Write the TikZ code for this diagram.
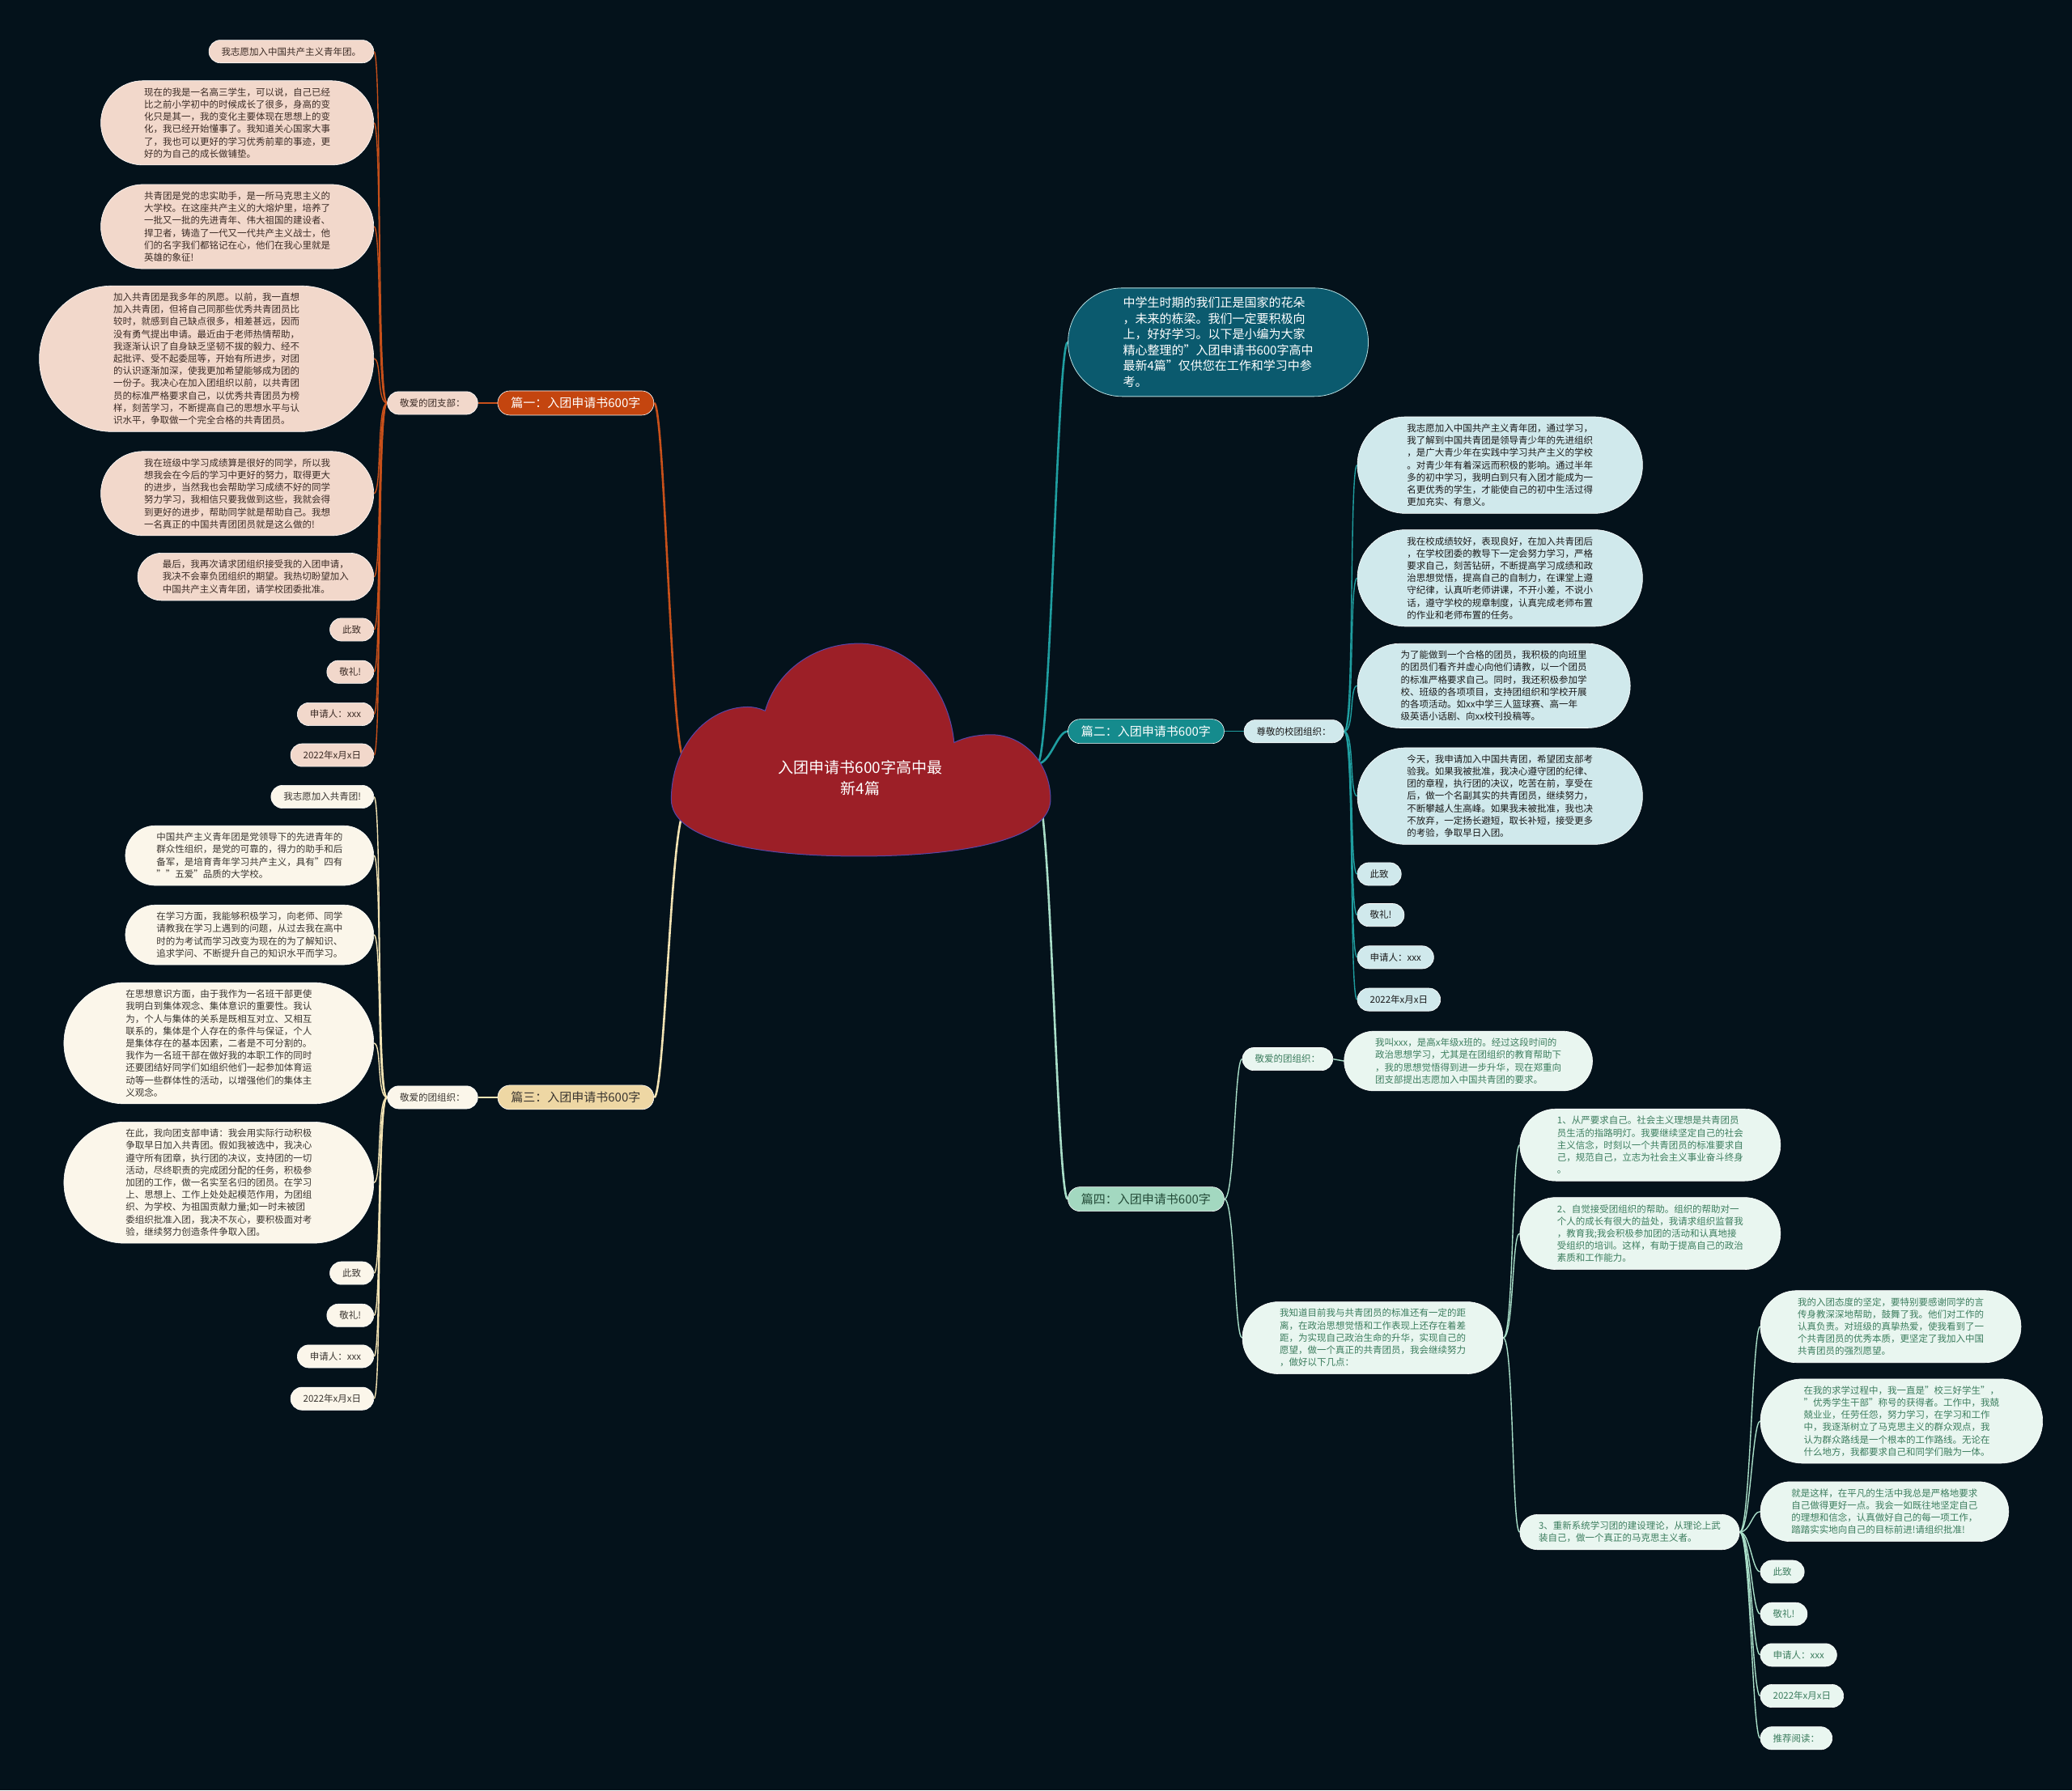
\documentclass[tikz,border=0pt]{standalone}
\usepackage{fontspec}
\setmainfont{Noto Sans CJK SC}
\usetikzlibrary{positioning, backgrounds}

\definecolor{bgnavy}{HTML}{04121B}
\definecolor{cloudred}{HTML}{9C1F27}
\definecolor{cloudline}{HTML}{5846A8}
\definecolor{peach}{HTML}{F2D8CB}
\definecolor{inkone}{HTML}{3B2B25}
\definecolor{topone}{HTML}{C4450F}
\definecolor{lineone}{HTML}{C8501A}
\definecolor{icecyan}{HTML}{D0E9EC}
\definecolor{inktwo}{HTML}{1A1A1A}
\definecolor{toptwo}{HTML}{158B8D}
\definecolor{linetwo}{HTML}{1F9EA0}
\definecolor{introfill}{HTML}{0B5A6E}
\definecolor{introline}{HTML}{B5DDE0}
\definecolor{cream}{HTML}{FBF6EA}
\definecolor{inkthree}{HTML}{3A3530}
\definecolor{topthree}{HTML}{EED7A4}
\definecolor{linethree}{HTML}{F3E3B3}
\definecolor{mintfill}{HTML}{E9F6F0}
\definecolor{inkfour}{HTML}{3C7D5E}
\definecolor{topfour}{HTML}{A3D8C0}
\definecolor{linefour}{HTML}{A9DEC8}

\newcommand\leaffont{\fontsize{11.5pt}{15.2pt}\selectfont}

\begin{document}
\begin{tikzpicture}[
    x=1.6327pt, y=-1.6327pt,
    every node/.style={font=\leaffont},
    rows/.style={minimum height={15.2pt*#1+13pt}, rounded corners={7.6pt*#1+6.5pt}, inner xsep={7.6pt*#1+8pt}},
    leaf/.style={rectangle, draw=white, line width=0.6pt, inner ysep=2pt, rows=1, align=left},
    leafone/.style={leaf, fill=peach, text=inkone},
    leaftwo/.style={leaf, fill=icecyan, text=inktwo},
    leafthree/.style={leaf, fill=cream, text=inkthree},
    leaffour/.style={leaf, fill=mintfill, text=inkfour},
    topic/.style={rectangle, draw=white, line width=0.6pt, minimum height=30pt, rounded corners=15pt, inner xsep=16.5pt, font=\fontsize{15pt}{18pt}\selectfont},
    linkone/.style={draw=lineone, line width=1.4pt},
    linktwo/.style={draw=linetwo, line width=1.4pt},
    linkthree/.style={draw=linethree, line width=1.4pt},
    linkfour/.style={draw=linefour, line width=1.4pt},
    trunk/.style={line width=2.6pt}
]
    \useasboundingbox (0,0) rectangle (1568,1355);

    \filldraw [fill=cloudred, draw=cloudline, line width=1pt]
        (508,605) .. controls (508,565) and (535,535) .. (566,535)
        .. controls (570,535) and (575,536) .. (579,538)
        .. controls (588,507) and (617,487) .. (650,487)
        .. controls (688,487) and (718,520) .. (722,562)
        .. controls (730,558) and (740,556) .. (750,556)
        .. controls (775,556) and (795,578) .. (795,605)
        .. controls (795,635) and (730,648) .. (650,648)
        .. controls (570,648) and (508,635) .. (508,605) -- cycle;
    \node (title) [text=white, align=center, font=\fontsize{19pt}{26pt}\selectfont] at (651,589) {入团申请书600字高中最\\新4篇};
    \coordinate (cloudL1) at (518,575);
    \coordinate (cloudL3) at (518,615);
    \coordinate (cloudR2) at (785,578);
    \coordinate (cloudR4) at (785,600);

    % 篇一
    \node (p1) [topic, fill=topone, text=white, anchor=east] at (495,305) {篇一：入团申请书600字};
    \node (t1) [leafone, left=24pt of p1] {敬爱的团支部：};
    \node (a1) [leafone, anchor=east] at (283,39) {我志愿加入中国共产主义青年团。};
    \node (a2) [leafone, rows=6, anchor=east] at (283,93) {现在的我是一名高三学生，可以说，自己已经\\比之前小学初中的时候成长了很多，身高的变\\化只是其一，我的变化主要体现在思想上的变\\化，我已经开始懂事了。我知道关心国家大事\\了，我也可以更好的学习优秀前辈的事迹，更\\好的为自己的成长做铺垫。};
    \node (a3) [leafone, rows=6, anchor=east] at (283,171.5) {共青团是党的忠实助手，是一所马克思主义的\\大学校。在这座共产主义的大熔炉里，培养了\\一批又一批的先进青年、伟大祖国的建设者、\\捍卫者，铸造了一代又一代共产主义战士，他\\们的名字我们都铭记在心，他们在我心里就是\\英雄的象征!};
    \node (a4) [leafone, rows=11, anchor=east] at (283,271.5) {加入共青团是我多年的夙愿。以前，我一直想\\加入共青团，但将自己同那些优秀共青团员比\\较时，就感到自己缺点很多，相差甚远，因而\\没有勇气提出申请。最近由于老师热情帮助，\\我逐渐认识了自身缺乏坚韧不拔的毅力、经不\\起批评、受不起委屈等，开始有所进步，对团\\的认识逐渐加深，使我更加希望能够成为团的\\一份子。我决心在加入团组织以前，以共青团\\员的标准严格要求自己，以优秀共青团员为榜\\样，刻苦学习，不断提高自己的思想水平与认\\识水平，争取做一个完全合格的共青团员。};
    \node (a5) [leafone, rows=6, anchor=east] at (283,373.5) {我在班级中学习成绩算是很好的同学，所以我\\想我会在今后的学习中更好的努力，取得更大\\的进步，当然我也会帮助学习成绩不好的同学\\努力学习，我相信只要我做到这些，我就会得\\到更好的进步，帮助同学就是帮助自己。我想\\一名真正的中国共青团团员就是这么做的!};
    \node (a6) [leafone, rows=3, anchor=east] at (283,436.5) {最后，我再次请求团组织接受我的入团申请，\\我决不会辜负团组织的期望。我热切盼望加入\\中国共产主义青年团，请学校团委批准。};
    \node (a7) [leafone, anchor=east] at (283,476.5) {此致};
    \node (a8) [leafone, anchor=east] at (283,508.5) {敬礼!};
    \node (a9) [leafone, anchor=east] at (283,540.5) {申请人：xxx};
    \node (a10) [leafone, anchor=east] at (283,571.5) {2022年x月x日};

    % 篇三
    \node (p3) [topic, fill=topthree, text=inkthree, anchor=east] at (495,830.5) {篇三：入团申请书600字};
    \node (t3) [leafthree, left=24pt of p3] {敬爱的团组织：};
    \node (c1) [leafthree, anchor=east] at (283,603) {我志愿加入共青团!};
    \node (c2) [leafthree, rows=4, anchor=east] at (283,647.5) {中国共产主义青年团是党领导下的先进青年的\\群众性组织，是党的可靠的，得力的助手和后\\备军，是培育青年学习共产主义，具有"四有\\""五爱"品质的大学校。};
    \node (c3) [leafthree, rows=4, anchor=east] at (283,707.5) {在学习方面，我能够积极学习，向老师、同学\\请教我在学习上遇到的问题，从过去我在高中\\时的为考试而学习改变为现在的为了解知识、\\追求学问、不断提升自己的知识水平而学习。};
    \node (c4) [leafthree, rows=9, anchor=east] at (283,789.5) {在思想意识方面，由于我作为一名班干部更使\\我明白到集体观念、集体意识的重要性。我认\\为，个人与集体的关系是既相互对立、又相互\\联系的，集体是个人存在的条件与保证，个人\\是集体存在的基本因素，二者是不可分割的。\\我作为一名班干部在做好我的本职工作的同时\\还要团结好同学们如组织他们一起参加体育运\\动等一些群体性的活动，以增强他们的集体主\\义观念。};
    \node (c5) [leafthree, rows=9, anchor=east] at (283,895) {在此，我向团支部申请：我会用实际行动积极\\争取早日加入共青团。假如我被选中，我决心\\遵守所有团章，执行团的决议，支持团的一切\\活动，尽终职责的完成团分配的任务，积极参\\加团的工作，做一名实至名归的团员。在学习\\上、思想上、工作上处处起模范作用，为团组\\织、为学校、为祖国贡献力量;如一时未被团\\委组织批准入团，我决不灰心，要积极面对考\\验，继续努力创造条件争取入团。};
    \node (c6) [leafthree, anchor=east] at (283,963.5) {此致};
    \node (c7) [leafthree, anchor=east] at (283,995.5) {敬礼!};
    \node (c8) [leafthree, anchor=east] at (283,1026.5) {申请人：xxx};
    \node (c9) [leafthree, anchor=east] at (283,1058.5) {2022年x月x日};

    % intro and 篇二
    \node (intro) [rectangle, fill=introfill, draw=introline, line width=0.8pt, text=white, align=left, minimum height=134pt, rounded corners=67pt, inner xsep=68pt, font=\fontsize{15pt}{19.5pt}\selectfont, anchor=west] at (808,259) {中学生时期的我们正是国家的花朵\\，未来的栋梁。我们一定要积极向\\上，好好学习。以下是小编为大家\\精心整理的"入团申请书600字高中\\最新4篇"仅供您在工作和学习中参\\考。};
    \node (p2) [topic, fill=toptwo, text=white, anchor=west] at (808,553.5) {篇二：入团申请书600字};
    \node (t2) [leaftwo, right=24pt of p2] {尊敬的校团组织：};
    \node (b1) [leaftwo, rows=7, anchor=west] at (1027,352) {我志愿加入中国共产主义青年团，通过学习，\\我了解到中国共青团是领导青少年的先进组织\\，是广大青少年在实践中学习共产主义的学校\\。对青少年有着深远而积极的影响。通过半年\\多的初中学习，我明白到只有入团才能成为一\\名更优秀的学生，才能使自己的初中生活过得\\更加充实、有意义。};
    \node (b2) [leaftwo, rows=7, anchor=west] at (1027,437.5) {我在校成绩较好，表现良好，在加入共青团后\\，在学校团委的教导下一定会努力学习，严格\\要求自己，刻苦钻研，不断提高学习成绩和政\\治思想觉悟，提高自己的自制力，在课堂上遵\\守纪律，认真听老师讲课，不开小差，不说小\\话，遵守学校的规章制度，认真完成老师布置\\的作业和老师布置的任务。};
    \node (b3) [leaftwo, rows=6, anchor=west] at (1027,519) {为了能做到一个合格的团员，我积极的向班里\\的团员们看齐并虚心向他们请教，以一个团员\\的标准严格要求自己。同时，我还积极参加学\\校、班级的各项项目，支持团组织和学校开展\\的各项活动。如xx中学三人篮球赛、高一年\\级英语小话剧、向xx校刊投稿等。};
    \node (b4) [leaftwo, rows=7, anchor=west] at (1027,602.5) {今天，我申请加入中国共青团，希望团支部考\\验我。如果我被批准，我决心遵守团的纪律、\\团的章程，执行团的决议，吃苦在前，享受在\\后，做一个名副其实的共青团员，继续努力，\\不断攀越人生高峰。如果我未被批准，我也决\\不放弃，一定扬长避短，取长补短，接受更多\\的考验，争取早日入团。};
    \node (b5) [leaftwo, anchor=west] at (1027,661.5) {此致};
    \node (b6) [leaftwo, anchor=west] at (1027,692.5) {敬礼!};
    \node (b7) [leaftwo, anchor=west] at (1027,724.5) {申请人：xxx};
    \node (b8) [leaftwo, anchor=west] at (1027,756.5) {2022年x月x日};

    % 篇四
    \node (p4) [topic, fill=topfour, text=inkfour!60!black, anchor=west] at (808,907.5) {篇四：入团申请书600字};
    \node (t4) [leaffour, anchor=west] at (940,801.5) {敬爱的团组织：};
    \node (d0) [leaffour, rows=4, anchor=west] at (1017,803) {我叫xxx，是高x年级x班的。经过这段时间的\\政治思想学习，尤其是在团组织的教育帮助下\\，我的思想觉悟得到进一步升华，现在郑重向\\团支部提出志愿加入中国共青团的要求。};
    \node (know) [leaffour, rows=5, anchor=west] at (940,1012.5) {我知道目前我与共青团员的标准还有一定的距\\离，在政治思想觉悟和工作表现上还存在着差\\距，为实现自己政治生命的升华，实现自己的\\愿望，做一个真正的共青团员，我会继续努力\\，做好以下几点：};
    \node (s1) [leaffour, rows=5, anchor=west] at (1150,866.5) {1、从严要求自己。社会主义理想是共青团员\\员生活的指路明灯。我要继续坚定自己的社会\\主义信念，时刻以一个共青团员的标准要求自\\己，规范自己，立志为社会主义事业奋斗终身\\。};
    \node (s2) [leaffour, rows=5, anchor=west] at (1150,933.5) {2、自觉接受团组织的帮助。组织的帮助对一\\个人的成长有很大的益处，我请求组织监督我\\，教育我;我会积极参加团的活动和认真地接\\受组织的培训。这样，有助于提高自己的政治\\素质和工作能力。};
    \node (s3) [leaffour, rows=2, anchor=west] at (1150,1159.5) {3、重新系统学习团的建设理论，从理论上武\\装自己，做一个真正的马克思主义者。};
    \node (e1) [leaffour, rows=5, anchor=west] at (1332,1004) {我的入团态度的坚定，要特别要感谢同学的言\\传身教深深地帮助，鼓舞了我。他们对工作的\\认真负责。对班级的真挚热爱，使我看到了一\\个共青团员的优秀本质，更坚定了我加入中国\\共青团员的强烈愿望。};
    \node (e2) [leaffour, rows=6, anchor=west] at (1332,1075.5) {在我的求学过程中，我一直是"校三好学生"，\\"优秀学生干部"称号的获得者。工作中，我兢\\兢业业，任劳任怨，努力学习，在学习和工作\\中，我逐渐树立了马克思主义的群众观点，我\\认为群众路线是一个根本的工作路线。无论在\\什么地方，我都要求自己和同学们融为一体。};
    \node (e3) [leaffour, rows=4, anchor=west] at (1332,1144) {就是这样，在平凡的生活中我总是严格地要求\\自己做得更好一点。我会一如既往地坚定自己\\的理想和信念，认真做好自己的每一项工作，\\踏踏实实地向自己的目标前进!请组织批准!};
    \node (e4) [leaffour, anchor=west] at (1332,1189.5) {此致};
    \node (e5) [leaffour, anchor=west] at (1332,1221.5) {敬礼!};
    \node (e6) [leaffour, anchor=west] at (1332,1252.5) {申请人：xxx};
    \node (e7) [leaffour, anchor=west] at (1332,1283.5) {2022年x月x日};
    \node (e8) [leaffour, anchor=west] at (1332,1315.5) {推荐阅读：};

    \begin{scope}[on background layer]
        \fill [bgnavy] (0,0) rectangle (1568,1355);
        \draw [linkone, trunk] (cloudL1) .. controls +(-10,0) and +(8,0) .. (p1.east);
        \draw [linkthree, trunk] (cloudL3) .. controls +(-10,0) and +(8,0) .. (p3.east);
        \draw [linktwo, trunk] (cloudR2) .. controls +(10,0) and +(-8,0) .. (intro.west);
        \draw [linktwo, trunk] (cloudR2) .. controls +(10,0) and +(-8,0) .. (p2.west);
        \draw [linkfour, trunk] (cloudR4) .. controls +(10,0) and +(-8,0) .. (p4.west);
        \draw [linkone] (p1.west) -- (t1.east);
        \draw [linkthree] (p3.west) -- (t3.east);
        \draw [linktwo] (p2.east) -- (t2.west);
        \draw [linkfour] (t4.east) -- (d0.west);
        \foreach \i in {1,...,10}
            \draw [linkone] (t1.west) .. controls +(-8,0) and +(6,0) .. (a\i.east);
        \foreach \i in {1,...,9}
            \draw [linkthree] (t3.west) .. controls +(-8,0) and +(6,0) .. (c\i.east);
        \foreach \i in {1,...,8}
            \draw [linktwo] (t2.east) .. controls +(8,0) and +(-6,0) .. (b\i.west);
        \foreach \n in {t4,know}
            \draw [linkfour] (p4.east) .. controls +(8,0) and +(-6,0) .. (\n.west);
        \foreach \n in {s1,s2,s3}
            \draw [linkfour] (know.east) .. controls +(8,0) and +(-6,0) .. (\n.west);
        \foreach \i in {1,...,8}
            \draw [linkfour] (s3.east) .. controls +(8,0) and +(-6,0) .. (e\i.west);
    \end{scope}
\end{tikzpicture}
\end{document}
